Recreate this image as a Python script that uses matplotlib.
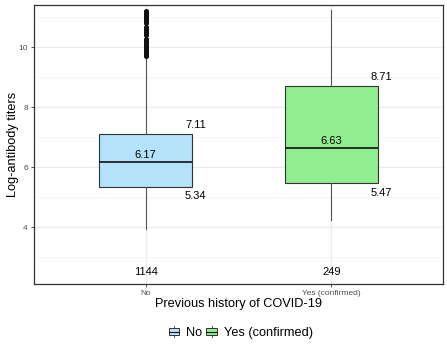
import matplotlib
matplotlib.use("Agg")
import matplotlib.pyplot as plt
from matplotlib.patches import Patch, Rectangle
from matplotlib.lines import Line2D
from matplotlib.ticker import MultipleLocator

plt.rcParams['font.family'] = ['Liberation Sans', 'DejaVu Sans']

categories = ["No", "Yes (confirmed)"]
q1 = [5.34, 5.47]
med = [6.17, 6.63]
q3 = [7.11, 8.71]
whislo = [3.92, 4.23]
whishi = [9.69, 11.24]
counts = [1144, 249]
fliers_no = [9.72, 9.75, 9.78, 9.81, 9.84, 9.87, 9.90, 9.93, 9.96, 9.99, 10.02,
             10.05, 10.08, 10.11, 10.14, 10.17, 10.20, 10.23, 10.26,
             10.41, 10.44, 10.48, 10.52, 10.56, 10.60, 10.64, 10.68,
             10.82, 10.86, 10.89, 10.92, 10.95, 10.98, 11.01, 11.04, 11.07, 11.10,
             11.13, 11.16, 11.19, 11.22]
fliers_yes = []
colors = ["#B3E2FA", "#90EE90"]


class BoxHandler:
    def legend_artist(self, legend, orig_handle, fontsize, handlebox):
        x0, y0 = handlebox.xdescent, handlebox.ydescent
        w, h = handlebox.width, handlebox.height
        cx = x0 + w / 2
        tr = handlebox.get_transform()
        v = Line2D([cx, cx], [y0 - 0.15 * h, y0 + 1.15 * h], color='#555555',
                   linewidth=0.7, transform=tr)
        r = Rectangle((x0, y0 + 0.15 * h), w, 0.7 * h,
                      facecolor=orig_handle.get_facecolor(), edgecolor='#333333',
                      linewidth=0.7, transform=tr)
        m = Line2D([x0, x0 + w], [y0 + 0.5 * h, y0 + 0.5 * h], color='#111111',
                   linewidth=0.8, transform=tr)
        handlebox.add_artist(v)
        handlebox.add_artist(r)
        handlebox.add_artist(m)
        return r


fig = plt.figure(figsize=(4.47, 3.49), dpi=100)
W, H = 447, 349
ax = fig.add_axes([34 / W, (H - 284) / H, (443 - 34) / W, (284 - 5) / H])

stats = []
for i in range(2):
    stats.append(dict(q1=q1[i], med=med[i], q3=q3[i], whislo=whislo[i],
                      whishi=whishi[i], fliers=[fliers_no, fliers_yes][i],
                      label=categories[i]))
pos = [1, 2]
bp = ax.bxp(stats, positions=pos, widths=0.5, patch_artist=True,
            showcaps=False, manage_ticks=False,
            boxprops=dict(edgecolor="#333333", linewidth=0.8),
            medianprops=dict(color="#111111", linewidth=1.2),
            whiskerprops=dict(color="#555555", linewidth=0.8),
            flierprops=dict(marker='o', markersize=2.6, markerfacecolor='#111111',
                            markeredgecolor='#111111', linestyle='none'),
            zorder=3)
for p, c in zip(bp['boxes'], colors):
    p.set_facecolor(c)

for i, x in enumerate(pos):
    ax.text(x + 0.27, q3[i] + 0.3, f"{q3[i]:.2f}", ha='center', va='center', fontsize=8, zorder=4)
    ax.text(x + 0.27, q1[i] - 0.32, f"{q1[i]:.2f}", ha='center', va='center', fontsize=8, zorder=4)
    ax.text(x, med[i] + 0.25, f"{med[i]:.2f}", ha='center', va='center', fontsize=8, zorder=4)
    ax.text(x, 2.5, f"{counts[i]}", ha='center', va='center', fontsize=8, zorder=4)

ax.set_xlim(0.4, 2.6)
ax.set_ylim(2.1, 11.41)
ax.set_xticks(pos)
ax.set_xticklabels(categories)
ax.yaxis.set_major_locator(MultipleLocator(2))
ax.yaxis.set_minor_locator(MultipleLocator(1))
ax.grid(True, which='major', color='#EBEBEB', linewidth=0.9, zorder=0)
ax.grid(True, which='minor', axis='y', color='#F2F2F2', linewidth=0.5, zorder=0)
ax.set_axisbelow(True)
ax.tick_params(axis='both', which='major', labelsize=6, labelcolor='#4D4D4D',
               color='#333333', length=2.5, width=0.6, pad=2)
ax.tick_params(axis='y', which='minor', length=0)
for s in ax.spines.values():
    s.set_color('#333333')
    s.set_linewidth(0.9)

ax.set_ylabel("Log-antibody titers", fontsize=9.2)
ax.yaxis.set_label_coords(-21 / (443 - 34), 0.5)
ax.set_xlabel("Previous history of COVID-19", fontsize=9.2)
ax.xaxis.set_label_coords(0.5, -(304 - 284) / (284 - 5))
ax.xaxis.label.set_va('center')
ax.yaxis.label.set_va('center')

handles = [Patch(facecolor=c) for c in colors]
fig.legend(handles, categories, loc='center', bbox_to_anchor=(241 / W, 1 - 333 / H),
           ncol=2, frameon=False, fontsize=9.2, handlelength=0.8, handleheight=0.7,
           handletextpad=0.6, columnspacing=0.3,
           handler_map={Patch: BoxHandler()})

fig.savefig("out.png", dpi=100)
